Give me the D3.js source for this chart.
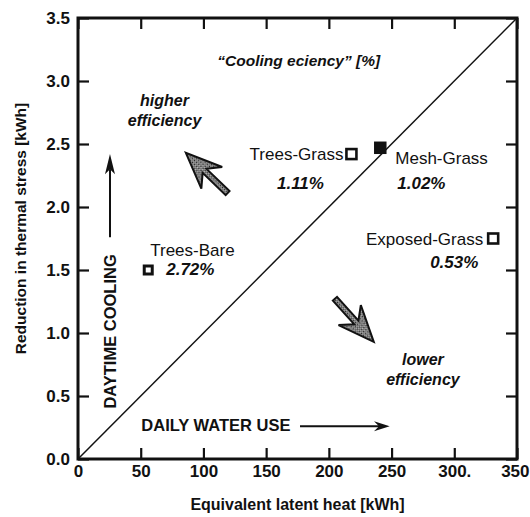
<!DOCTYPE html>
<html><head><meta charset="utf-8">
<script src="https://cdn.jsdelivr.net/npm/d3@7"></script>
<style>
html,body{margin:0;padding:0;background:#fff;}
svg text{font-family:"Liberation Sans",Arial,Helvetica,sans-serif;fill:#111;}
</style></head>
<body>
<svg id="chart" width="530" height="517"></svg>
<script>
// ---- data ----
const sites = ["Trees-Bare", "Trees-Grass", "Mesh-Grass", "Exposed-Grass"];
const latentHeat = [56, 218, 241, 331];          // kWh (x)
const thermalReduction = [1.50, 2.42, 2.47, 1.75]; // kWh (y)
const efficiencyLabels = ["2.72%", "1.11%", "1.02%", "0.53%"];
const xTickValues = [0, 50, 100, 150, 200, 250, 300, 350];
const xTickLabels = ["0", "50", "100", "150", "200", "250", "300.", "350"];
const yTickValues = [0, 0.5, 1.0, 1.5, 2.0, 2.5, 3.0, 3.5];
const yTickLabels = ["0.0", "0.5", "1.0", "1.5", "2.0", "2.5", "3.0", "3.5"];

const margin = {left: 78, top: 18, right: 13, bottom: 58};
const W = 530, H = 517;
const iw = W - margin.left - margin.right, ih = H - margin.top - margin.bottom;

const svg = d3.select("#chart");
const g = svg.append("g").attr("transform", `translate(${margin.left},${margin.top})`);
const x = d3.scaleLinear().domain([0, 350]).range([0, iw]);
const y = d3.scaleLinear().domain([0, 3.5]).range([ih, 0]);

// defs: stipple pattern
const defs = svg.append("defs");
const pat = defs.append("pattern").attr("id", "stip").attr("patternUnits", "userSpaceOnUse")
  .attr("width", 3).attr("height", 3);
pat.append("rect").attr("width", 3).attr("height", 3).attr("fill", "#bbb");
pat.append("rect").attr("width", 1.5).attr("height", 1.5).attr("fill", "#222");
pat.append("rect").attr("x", 1.5).attr("y", 1.5).attr("width", 1.5).attr("height", 1.5).attr("fill", "#555");

// axes (ticks inward on all sides)
const tickLen = 11;
const axB = g.append("g").attr("transform", `translate(0,${ih})`)
  .call(d3.axisBottom(x).tickValues(xTickValues).tickSize(-tickLen).tickPadding(tickLen + 8)
        .tickFormat((d, i) => xTickLabels[i]));
const axT = g.append("g").call(d3.axisTop(x).tickValues(xTickValues).tickSize(-tickLen).tickFormat(""));
const axL = g.append("g")
  .call(d3.axisLeft(y).tickValues(yTickValues).tickSize(-tickLen).tickPadding(tickLen + 8)
        .tickFormat((d, i) => yTickLabels[i]));
const axR = g.append("g").attr("transform", `translate(${iw},0)`)
  .call(d3.axisRight(y).tickValues(yTickValues).tickSize(-tickLen).tickFormat(""));
[axB, axT, axL, axR].forEach(a => {
  a.select(".domain").remove();
  a.selectAll(".tick line").attr("stroke", "#111").attr("stroke-width", 2.2);
  a.selectAll("text").attr("font-size", 17).attr("font-weight", "bold").attr("fill", "#111")
   .attr("font-family", '"Liberation Sans",Arial,sans-serif');
});
axB.selectAll(".tick text").attr("dy", "0.71em").attr("y", 6);
// keep the last label inside the picture
axB.selectAll(".tick text").filter(d => d === 350).attr("text-anchor", "end").attr("x", 12);
axL.selectAll(".tick text").attr("x", -8);

// frame
g.append("rect").attr("x", 0).attr("y", 0).attr("width", iw).attr("height", ih)
  .attr("fill", "none").attr("stroke", "#111").attr("stroke-width", 3);

// 1:1 diagonal
g.append("line").attr("x1", x(0)).attr("y1", y(0)).attr("x2", x(350)).attr("y2", y(3.5))
  .attr("stroke", "#111").attr("stroke-width", 1.5);

// axis titles
svg.append("text").attr("x", margin.left + iw / 2).attr("y", 510).attr("text-anchor", "middle")
  .attr("font-size", 16).attr("font-weight", "bold").text("Equivalent latent heat [kWh]");
svg.append("text").attr("transform", `translate(26,${margin.top + ih / 2 - 10}) rotate(-90)`)
  .attr("text-anchor", "middle").attr("font-size", 15.5).attr("font-weight", "bold")
  .text("Reduction in thermal stress [kWh]");

// title-ish annotation
g.append("text").attr("x", x(176)).attr("y", y(3.12)).attr("text-anchor", "middle")
  .attr("font-size", 15.5).attr("font-weight", "bold").attr("font-style", "italic")
  .text("\u201CCooling  eciency\u201D [%]");

// efficiency annotations
function twoLine(cx, cy, lines) {
  const t = g.append("text").attr("x", cx).attr("y", cy).attr("text-anchor", "middle")
    .attr("font-size", 16).attr("font-style", "italic").attr("font-weight", "bold");
  lines.forEach((l, i) => t.append("tspan").attr("x", cx).attr("dy", i ? 20 : 0).text(l));
}
twoLine(x(69), y(2.8), ["higher", "efficiency"]);
twoLine(x(275), y(0.75), ["lower", "efficiency"]);

// DAYTIME COOLING + arrow
const vx = x(25.5);
g.append("text").attr("transform", `translate(${vx + 6},${y(0.40)}) rotate(-90)`)
  .attr("font-size", 16.5).attr("font-weight", "bold").text("DAYTIME COOLING");
g.append("line").attr("x1", vx).attr("x2", vx).attr("y1", y(1.76)).attr("y2", y(2.3))
  .attr("stroke", "#111").attr("stroke-width", 2);
g.append("path").attr("d", `M${vx},${y(2.42)} L${vx - 5},${y(2.26)} L${vx},${y(2.3)} L${vx + 5},${y(2.26)}Z`)
  .attr("fill", "#111");

// DAILY WATER USE + arrow
const hy = y(0.26);
g.append("text").attr("x", x(50.5)).attr("y", hy + 5).attr("font-size", 16.5).attr("font-weight", "bold")
  .text("DAILY WATER USE");
g.append("line").attr("x1", x(177)).attr("x2", x(240)).attr("y1", hy).attr("y2", hy)
  .attr("stroke", "#111").attr("stroke-width", 2);
g.append("path").attr("d", `M${x(248.5)},${hy} L${x(236)},${hy - 5} L${x(240)},${hy} L${x(236)},${hy + 5}Z`)
  .attr("fill", "#111");

// stippled block arrows
function blockArrow(tx, ty, angleDeg) {
  const L = 36, w = 15, N = 26, s = 2.8, T = 58;
  const pts = [[0, 0], [-L, -w], [-N, -s], [-T, -s], [-T, s], [-N, s], [-L, w]];
  g.append("path").attr("transform", `translate(${tx},${ty}) rotate(${angleDeg})`)
    .attr("d", "M" + pts.map(p => p.join(",")).join("L") + "Z")
    .attr("fill", "url(#stip)").attr("stroke", "#111").attr("stroke-width", 2).attr("stroke-linejoin", "miter");
}
blockArrow(x(86), y(2.43), -136);
blockArrow(x(235.8), y(0.93), 48);

// data markers
const styleFor = {
  "Trees-Bare": {s: 8, fill: "#fff", sw: 3},
  "Trees-Grass": {s: 10, fill: "#fff", sw: 2.6},
  "Mesh-Grass": {s: 11, fill: "#111", sw: 1.5},
  "Exposed-Grass": {s: 10, fill: "#fff", sw: 2.6}
};
const pts = sites.map((n, i) => ({name: n, x: latentHeat[i], y: thermalReduction[i], eff: efficiencyLabels[i]}));
g.selectAll("rect.pt").data(pts).join("rect").attr("class", "pt")
  .attr("x", d => x(d.x) - styleFor[d.name].s / 2).attr("y", d => y(d.y) - styleFor[d.name].s / 2)
  .attr("width", d => styleFor[d.name].s).attr("height", d => styleFor[d.name].s)
  .attr("fill", d => styleFor[d.name].fill).attr("stroke", "#111").attr("stroke-width", d => styleFor[d.name].sw);

// point labels (offsets in px)
const labelPos = {
  "Trees-Bare": {nx: 2, ny: -14, na: "start", ex: 18, ey: 5, ea: "start"},
  "Trees-Grass": {nx: -8, ny: 6, na: "end", ex: -51, ey: 35, ea: "middle"},
  "Mesh-Grass": {nx: 15, ny: 16, na: "start", ex: 17, ey: 41, ea: "start"},
  "Exposed-Grass": {nx: -10, ny: 6, na: "end", ex: -63, ey: 29, ea: "start"}
};
pts.forEach(d => {
  const p = labelPos[d.name];
  g.append("text").attr("x", x(d.x) + p.nx).attr("y", y(d.y) + p.ny).attr("text-anchor", p.na)
    .attr("font-size", 17).text(d.name);
  g.append("text").attr("x", x(d.x) + p.ex).attr("y", y(d.y) + p.ey).attr("text-anchor", p.ea)
    .attr("font-size", 17).attr("font-style", "italic").attr("font-weight", "bold").text(d.eff);
});
</script>
</body></html>
